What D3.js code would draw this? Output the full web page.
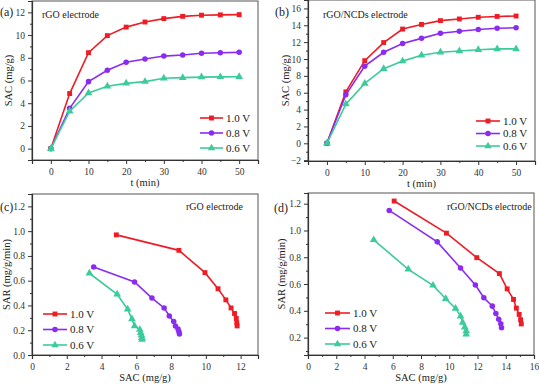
<!DOCTYPE html>
<html>
<head>
<meta charset="utf-8">
<script src="https://cdn.jsdelivr.net/npm/d3@7"></script>
<style>
  html, body { margin: 0; padding: 0; background: #fff; }
  svg { display: block; }
</style>
</head>
<body>
<svg id="chart" width="539" height="384"></svg>
<script>
// ---- data ----
const times = [0, 5, 10, 15, 20, 25, 30, 35, 40, 45, 50];
const voltages = ['1.0 V', '0.8 V', '0.6 V'];

// SAC (mg/g) vs t, rGO electrode
const sacRGO_10 = [0, 4.85, 8.45, 9.95, 10.7, 11.15, 11.45, 11.65, 11.75, 11.78, 11.8];
const sacRGO_08 = [0, 3.55, 5.9, 6.9, 7.6, 7.9, 8.15, 8.25, 8.4, 8.45, 8.48];
const sacRGO_06 = [0, 3.3, 4.9, 5.5, 5.75, 5.9, 6.2, 6.25, 6.3, 6.32, 6.33];

// SAC (mg/g) vs t, rGO/NCDs electrode
const sacNCD_10 = [0, 6.1, 9.8, 11.95, 13.55, 14.1, 14.55, 14.75, 14.95, 15.05, 15.1];
const sacNCD_08 = [0, 5.75, 9.15, 10.8, 11.85, 12.45, 13.05, 13.3, 13.5, 13.65, 13.7];
const sacNCD_06 = [0, 4.65, 7.1, 8.85, 9.75, 10.45, 10.8, 10.95, 11.1, 11.2, 11.2];

// SAR (mg/g/min) for t = 5..50
const sarRGO_10 = [0.97, 0.845, 0.665, 0.535, 0.445, 0.38, 0.335, 0.295, 0.26, 0.235];
const sarRGO_08 = [0.71, 0.59, 0.46, 0.38, 0.315, 0.27, 0.235, 0.21, 0.19, 0.17];
const sarRGO_06 = [0.66, 0.49, 0.37, 0.29, 0.235, 0.205, 0.18, 0.16, 0.14, 0.125];

const sarNCD_10 = [1.22, 0.98, 0.797, 0.678, 0.564, 0.485, 0.42, 0.373, 0.334, 0.302];
const sarNCD_08 = [1.15, 0.915, 0.72, 0.593, 0.498, 0.435, 0.38, 0.3375, 0.303, 0.274];
const sarNCD_06 = [0.93, 0.71, 0.59, 0.49, 0.418, 0.36, 0.313, 0.2775, 0.249, 0.224];

const COLORS = ['#ee1c25', '#8a2cf0', '#3ccb9b'];
const SHAPES = [d3.symbolSquare, d3.symbolCircle, d3.symbolTriangle];
const FONT = "'Liberation Serif', 'Times New Roman', serif";

const svg = d3.select('#chart');

function zip(xs, ys) { return xs.map((x, i) => [x, ys[i]]); }

function drawPanel(cfg) {
    const { box, xDomain, yDomain, xTicks, xMinor, yTicks, yMinor, series, fmtY } = cfg;
    const x = d3.scaleLinear().domain(xDomain).range([box.x0, box.x1]);
    const y = d3.scaleLinear().domain(yDomain).range([box.y1, box.y0]);
    const g = svg.append('g');

    // frame (top and right)
    g.append('rect')
        .attr('x', box.x0).attr('y', box.y0)
        .attr('width', box.x1 - box.x0).attr('height', box.y1 - box.y0)
        .attr('fill', 'none').attr('stroke', '#555').attr('stroke-width', 1);

    // bottom axis
    const xa = g.append('g').attr('transform', `translate(0,${box.y1})`)
        .call(d3.axisBottom(x).tickValues(xTicks).tickSize(4).tickFormat(d3.format('d')));
    g.append('g').attr('transform', `translate(0,${box.y1})`)
        .call(d3.axisBottom(x).tickValues(xMinor).tickSize(2).tickFormat(''))
        .select('.domain').remove();

    // left axis
    const ya = g.append('g').attr('transform', `translate(${box.x0},0)`)
        .call(d3.axisLeft(y).tickValues(yTicks).tickSize(4).tickFormat(fmtY));
    g.append('g').attr('transform', `translate(${box.x0},0)`)
        .call(d3.axisLeft(y).tickValues(yMinor).tickSize(2).tickFormat(''))
        .select('.domain').remove();

    g.selectAll('.domain').attr('stroke', '#333').attr('stroke-width', 1.2);
    g.selectAll('.tick line').attr('stroke', '#333');
    g.selectAll('.tick text').attr('font-family', FONT).attr('font-size', 9.5).attr('fill', '#333');
    xa.selectAll('.tick text').attr('dy', '0.85em');
    ya.selectAll('.tick text').attr('dx', '0');

    // series
    const line = d3.line().x(d => x(d[0])).y(d => y(d[1]));
    series.forEach((pts, i) => {
        g.append('path').attr('d', line(pts))
            .attr('fill', 'none').attr('stroke', COLORS[i]).attr('stroke-width', 1.6);
        g.selectAll(null).data(pts).enter().append('path')
            .attr('transform', d => `translate(${x(d[0])},${y(d[1])})`)
            .attr('d', d3.symbol().type(SHAPES[i]).size(i === 2 ? 26 : 24))
            .attr('fill', COLORS[i]);
    });

    // legend
    const L = cfg.legend;
    voltages.forEach((v, i) => {
        const ly = L.y + i * L.dy;
        g.append('line').attr('x1', L.x).attr('x2', L.x + L.len).attr('y1', ly).attr('y2', ly)
            .attr('stroke', COLORS[i]).attr('stroke-width', 1.6);
        g.append('path').attr('transform', `translate(${L.x + L.len / 2},${ly})`)
            .attr('d', d3.symbol().type(SHAPES[i]).size(24)).attr('fill', COLORS[i]);
        g.append('text').attr('x', L.x + L.len + 3).attr('y', ly).attr('dy', '0.35em')
            .attr('font-family', FONT).attr('font-size', 11).attr('fill', '#222').text(v);
    });

    // texts
    g.append('text').attr('x', cfg.tag.x).attr('y', cfg.tag.y)
        .attr('font-family', FONT).attr('font-size', 12).attr('fill', '#222').text(cfg.tag.text);
    g.append('text').attr('x', cfg.note.x).attr('y', cfg.note.y)
        .attr('font-family', FONT).attr('font-size', 10).attr('fill', '#222').text(cfg.note.text);
    g.append('text').attr('x', (box.x0 + box.x1) / 2).attr('y', cfg.xTitleY)
        .attr('text-anchor', 'middle').attr('font-family', FONT).attr('font-size', 10.5)
        .attr('fill', '#222').text(cfg.xTitle);
    g.append('text')
        .attr('transform', `translate(${cfg.yTitleX},${(box.y0 + box.y1) / 2 + (cfg.yTitleOff || 0)}) rotate(-90)`)
        .attr('text-anchor', 'middle').attr('font-family', FONT).attr('font-size', 10.5)
        .attr('fill', '#222').text(cfg.yTitle);
}

const tMinor = [-5, 5, 15, 25, 35, 45, 55];

// (a)
drawPanel({
    box: { x0: 32, x1: 258, y0: 1, y1: 160 },
    xDomain: [-5, 55], yDomain: [-1, 13],
    xTicks: [0, 10, 20, 30, 40, 50], xMinor: tMinor,
    yTicks: [0, 2, 4, 6, 8, 10, 12], yMinor: [-1, 1, 3, 5, 7, 9, 11, 13],
    fmtY: d3.format('d'),
    series: [zip(times, sacRGO_10), zip(times, sacRGO_08), zip(times, sacRGO_06)],
    legend: { x: 200, y: 118, dy: 15, len: 23 },
    tag: { x: 0, y: 16, text: '(a)' },
    note: { x: 42, y: 18, text: 'rGO electrode' },
    xTitle: 't (min)', xTitleY: 186,
    yTitle: 'SAC (mg/g)', yTitleX: 12
});

// (b)
drawPanel({
    box: { x0: 308, x1: 535, y0: 0, y1: 161 },
    xDomain: [-5, 55], yDomain: [-2.1, 17],
    xTicks: [0, 10, 20, 30, 40, 50], xMinor: tMinor,
    yTicks: [-2, 0, 2, 4, 6, 8, 10, 12, 14, 16], yMinor: [-1, 1, 3, 5, 7, 9, 11, 13, 15],
    fmtY: d3.format('d'),
    series: [zip(times, sacNCD_10), zip(times, sacNCD_08), zip(times, sacNCD_06)],
    legend: { x: 476, y: 121, dy: 12.5, len: 24 },
    tag: { x: 275, y: 16, text: '(b)' },
    note: { x: 323, y: 18, text: 'rGO/NCDs electrode' },
    xTitle: 't (min)', xTitleY: 187,
    yTitle: 'SAC (mg/g)', yTitleX: 289
});

// (c)
drawPanel({
    box: { x0: 32, x1: 258, y0: 194, y1: 355 },
    xDomain: [0, 13], yDomain: [0, 1.3],
    xTicks: [0, 2, 4, 6, 8, 10, 12], xMinor: [1, 3, 5, 7, 9, 11, 13],
    yTicks: [0, 0.2, 0.4, 0.6, 0.8, 1.0, 1.2], yMinor: [0.1, 0.3, 0.5, 0.7, 0.9, 1.1, 1.3],
    fmtY: d3.format('.1f'),
    series: [zip(sacRGO_10.slice(1), sarRGO_10), zip(sacRGO_08.slice(1), sarRGO_08), zip(sacRGO_06.slice(1), sarRGO_06)],
    legend: { x: 43, y: 314, dy: 15.5, len: 24 },
    tag: { x: 0, y: 211, text: '(c)' },
    note: { x: 186, y: 210, text: 'rGO electrode' },
    xTitle: 'SAC (mg/g)', xTitleY: 381,
    yTitle: 'SAR (mg/g/min)', yTitleX: 10
});

// (d)
drawPanel({
    box: { x0: 308, x1: 534, y0: 193, y1: 355 },
    xDomain: [0, 16], yDomain: [0.07, 1.28],
    xTicks: [0, 2, 4, 6, 8, 10, 12, 14, 16], xMinor: [1, 3, 5, 7, 9, 11, 13, 15],
    yTicks: [0.2, 0.4, 0.6, 0.8, 1.0, 1.2], yMinor: [0.1, 0.3, 0.5, 0.7, 0.9, 1.1],
    fmtY: d3.format('.1f'),
    series: [zip(sacNCD_10.slice(1), sarNCD_10), zip(sacNCD_08.slice(1), sarNCD_08), zip(sacNCD_06.slice(1), sarNCD_06)],
    legend: { x: 325, y: 313, dy: 15.5, len: 25 },
    tag: { x: 274, y: 212, text: '(d)' },
    note: { x: 447, y: 210, text: 'rGO/NCDs electrode' },
    xTitle: 'SAC (mg/g)', xTitleY: 381,
    yTitle: 'SAR (mg/g/min)', yTitleX: 285
});
</script>
</body>
</html>
